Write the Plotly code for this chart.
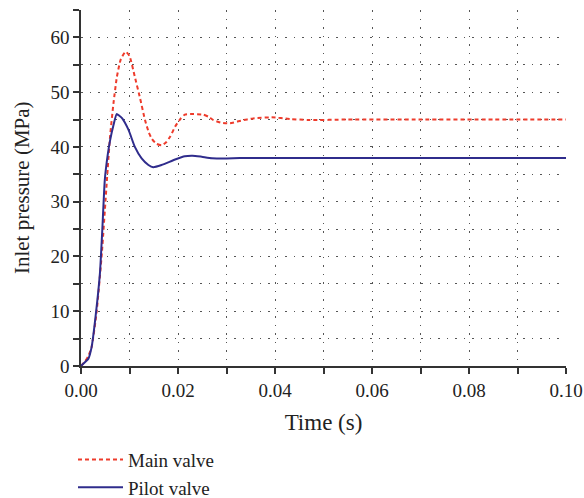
import plotly.graph_objects as go

# Data
t_main = [0, 0.0008, 0.0015, 0.0022, 0.0032, 0.0043, 0.0053, 0.0060, 0.0067, 0.0074,
          0.0082, 0.0092, 0.0100, 0.0111, 0.0122, 0.0132, 0.0140, 0.0146, 0.0155,
          0.0166, 0.0175, 0.0184, 0.0194, 0.0204, 0.0214, 0.0225, 0.0252, 0.0263, 0.0273,
          0.0290, 0.0307, 0.0330, 0.0355, 0.0393, 0.0431, 0.0470, 0.055, 0.07, 0.085, 0.1]
p_main = [0, 0.8, 1.8, 3.5, 9.7, 20.6, 33.4, 42.0, 48.0, 52.8,
          56.0, 57.4, 56.6, 52.8, 48.8, 44.9, 42.6, 41.5, 40.6,
          40.3, 40.8, 41.9, 43.7, 45.0, 45.9, 46.0, 45.9, 45.5, 44.9,
          44.4, 44.3, 44.8, 45.2, 45.4, 45.1, 44.9, 45.0, 45.0, 45.0, 45.0]

t_pilot = [0, 0.0008, 0.0015, 0.0022, 0.0030, 0.0039, 0.0044, 0.0049, 0.0055, 0.0060,
           0.0067, 0.00735, 0.0079, 0.0085, 0.0098, 0.0111, 0.0125, 0.0139, 0.0149,
           0.0166, 0.0194, 0.0214, 0.0230, 0.0249, 0.0270, 0.030, 0.035, 0.1]
p_pilot = [0, 0.7, 1.3, 3.5, 9.0, 16.9, 25.0, 33.9, 38.5, 41.2,
           44.0, 46.0, 45.7, 45.2, 43.1, 40.0, 37.9, 36.7, 36.3,
           36.7, 37.7, 38.3, 38.4, 38.2, 37.95, 37.9, 38.0, 38.0]

names = ["Main valve", "Pilot valve"]
x_title = "Time (s)"
y_title = "Inlet pressure (MPa)"
FONT = "Liberation Serif"
AX = "#333333"
GRID = "#555555"

fig = go.Figure()
fig.add_trace(go.Scatter(x=t_main, y=p_main, mode="lines", name=names[0],
                         line=dict(color="#ee3b2b", width=2, dash="4px,3px", shape="spline", smoothing=0.5)))
fig.add_trace(go.Scatter(x=t_pilot, y=p_pilot, mode="lines", name=names[1],
                         line=dict(color="#2f2c8c", width=2, shape="spline", smoothing=0.5)))

fig.update_layout(
    width=584, height=498,
    margin=dict(l=81, r=18, t=10, b=132, autoexpand=False),
    paper_bgcolor="white", plot_bgcolor="white",
    font=dict(family=FONT, size=19, color="#222222"),
    showlegend=True,
    legend=dict(orientation="v", xref="container", x=0.125, xanchor="left",
                yref="container", y=0.115, yanchor="top",
                font=dict(family=FONT, size=19, color="#222222"), bgcolor="rgba(0,0,0,0)",
                tracegroupgap=0, itemwidth=45),
    annotations=[dict(text=y_title, xref="paper", yref="paper", x=-0.1216, y=0.5,
                      xanchor="center", yanchor="middle", textangle=-90, showarrow=False,
                      font=dict(family=FONT, size=21, color="#222222"))],
)
fig.update_xaxes(
    range=[0, 0.1], dtick=0.02, tick0=0, tickformat=".2f",
    showline=True, linecolor=AX, linewidth=1.5, zeroline=False,
    ticks="outside", ticklen=6, tickcolor=AX, tickwidth=1.5,
    showgrid=True, gridcolor=GRID, gridwidth=1, griddash="1.5px,7px",
    minor=dict(dtick=0.01, tick0=0, ticks="outside", ticklen=6, tickcolor=AX, tickwidth=1.5,
               showgrid=True, gridcolor=GRID, gridwidth=1, griddash="1.5px,7px"),
    title=dict(text=x_title, standoff=14),
)
fig.update_yaxes(
    range=[0, 65], dtick=10, tick0=0,
    showline=True, linecolor=AX, linewidth=1.5, zeroline=False,
    ticks="outside", ticklen=6, tickcolor=AX, tickwidth=1.5,
    showgrid=True, gridcolor=GRID, gridwidth=1, griddash="1.5px,7px",
    minor=dict(dtick=5, tick0=0, ticks="outside", ticklen=6, tickcolor=AX, tickwidth=1.5,
               showgrid=True, gridcolor=GRID, gridwidth=1, griddash="1.5px,7px"),
)

fig.write_html("out.html")
